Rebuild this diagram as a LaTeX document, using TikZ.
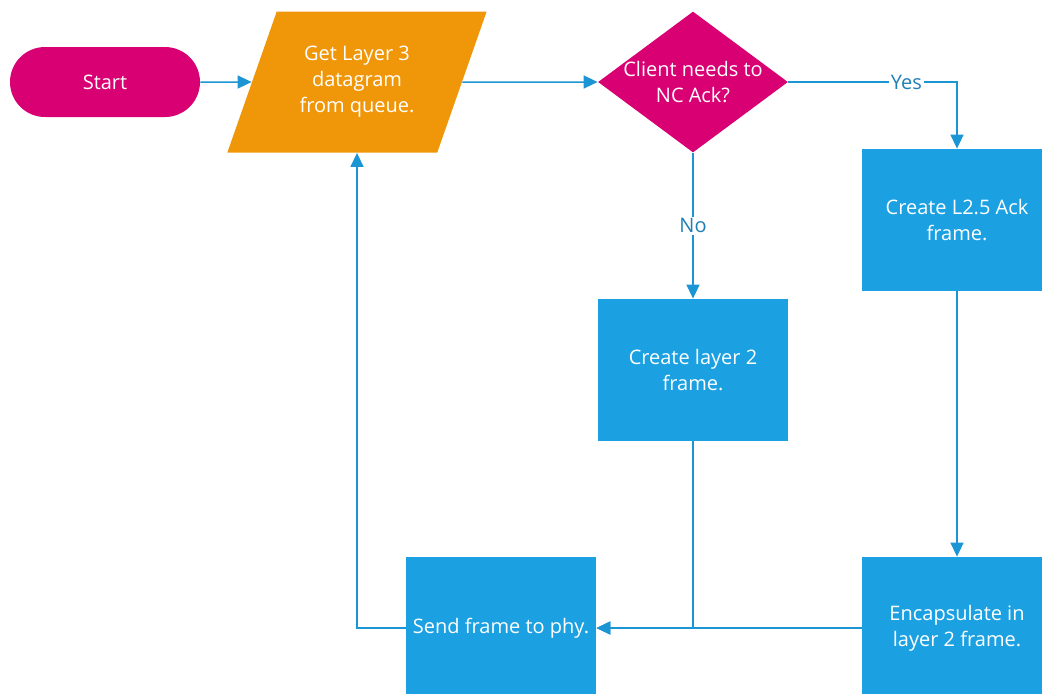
\documentclass[tikz,border=0pt]{standalone}
\usepackage{fontspec}
\setmainfont{Open Sans}
\usetikzlibrary{shapes,arrows.meta,positioning}

\definecolor{startpink}{HTML}{D80073}
\definecolor{ioorange}{HTML}{F09609}
\definecolor{stepblue}{HTML}{1BA1E2}
\definecolor{flowblue}{HTML}{1B95D4}
\definecolor{labelblue}{HTML}{1E7FB8}

% text that may run over the edges of its shape
\newcommand{\spillline}[1]{\makebox[0pt]{#1}}

\tikzset{
  base/.style={text=white, font=\fontsize{10}{13}\selectfont, align=center, inner sep=0pt},
  terminal/.style={base, fill=startpink, rounded corners=17.5pt,
                   minimum width=95pt, minimum height=35pt},
  io/.style={base, fill=ioorange, trapezium, trapezium left angle=63.6,
             trapezium right angle=116.4, trapezium stretches=true,
             minimum width=130.5pt, minimum height=70.5pt},
  decision/.style={base, fill=startpink, diamond, minimum width=95pt, minimum height=70.5pt},
  process/.style={base, fill=stepblue, rectangle, minimum width=95pt, minimum height=71pt},
  flow/.style={->, >={Triangle[length=7pt,width=6.5pt]}, draw=flowblue, line width=0.75pt},
  answer/.style={fill=white, text=labelblue, font=\fontsize{10}{13}\selectfont, inner sep=1pt}
}

\begin{document}
\begin{tikzpicture}[x=0.5pt, y=-0.5pt]

  \path[use as bounding box] (0,0) rectangle (1042,693);
  \clip (0,0) rectangle (1042,693);

  \node[terminal] (start) at (105,82)                          {Start};
  \node[io]       (getdg) [right of=start, node distance=126pt] {Get Layer 3\\datagram\\from queue.};
  \node[decision] (dec)   [right of=getdg, node distance=168pt]
                          {\spillline{Client needs to}\\\spillline{NC Ack?}};
  \node[process]  (ack)   [right of=dec, node distance=132pt, yshift=-69pt] {Create L2.5 Ack\\frame.};
  \node[process]  (l2box) [below of=dec, node distance=144pt]   {Create layer 2\\frame.};
  \node[process]  (enc)   [below of=ack, node distance=204pt]   {Encapsulate in\\layer 2 frame.};
  \node[process]  (send)  [left of=enc, node distance=228pt]    {Send frame to phy.};

  \draw[flow] (start) -- (getdg);
  \draw[flow] (getdg) -- (dec);
  \draw[flow] (dec)   -| node[answer, pos=0.35] {Yes} (ack);
  \draw[flow] (dec)   -- node[answer] {No} (l2box);
  \draw[flow] (ack)   -- (enc);
  \draw[flow] (enc)   -- (send);
  \draw[flow] (l2box) |- (send);
  \draw[flow] (send)  -| (getdg);
\end{tikzpicture}
\end{document}
